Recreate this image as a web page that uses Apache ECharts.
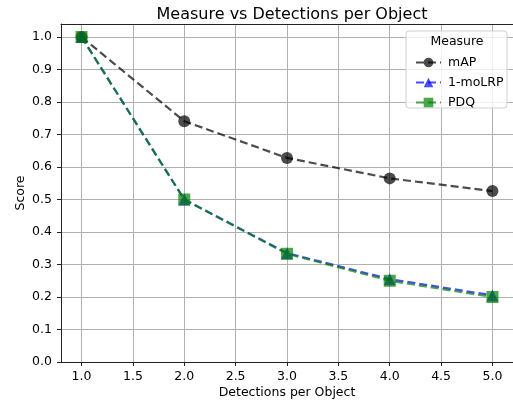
<!DOCTYPE html>
<html>
<head>
<meta charset="utf-8">
<script src="https://cdn.jsdelivr.net/npm/echarts@6/dist/echarts.min.js"></script>
<style>
  html, body { margin: 0; padding: 0; background: #fff; overflow: hidden; }
  #main { width: 513px; height: 402px; }
</style>
</head>
<body>
<div id="main"></div>
<script>
const detections = [1, 2, 3, 4, 5];
const mapScores = [1.0, 0.741, 0.628, 0.565, 0.526];
const molrpScores = [1.0, 0.5, 0.335, 0.255, 0.205];
const pdqScores = [1.0, 0.5, 0.333, 0.25, 0.2];
const xTicks = [1.0, 1.5, 2.0, 2.5, 3.0, 3.5, 4.0, 4.5, 5.0];
const yTicks = [0.0, 0.1, 0.2, 0.3, 0.4, 0.5, 0.6, 0.7, 0.8, 0.9, 1.0];

const font = 'DejaVu Sans';
const pairs = (ys) => detections.map((x, i) => [x, ys[i]]);

const myChart = echarts.init(document.getElementById('main'));

const lineSeries = (name, ys, color, symbol, size, z) => ({
  name: name,
  type: 'line',
  data: pairs(ys),
  symbol: symbol,
  symbolSize: size,
  z: z,
  lineStyle: { color: color, width: 2.2, type: [8, 4], opacity: 0.7 },
  itemStyle: { color: color, opacity: 0.7 },
  emphasis: { disabled: true },
});

const option = {
  animation: false,
  backgroundColor: '#fff',
  title: {
    text: 'Measure vs Detections per Object',
    left: 287,
    top: 2,
    textAlign: 'center',
    textStyle: { fontFamily: font, fontSize: 16, fontWeight: 'normal', color: '#000' },
  },
  grid: {
    left: 61, top: 24, right: 0, bottom: 40,
    outerBoundsMode: 'none',
    containLabel: false,
    show: false,
  },
  legend: {
    orient: 'vertical',
    left: 410,
    top: 51,
    z: 60,
    itemWidth: 25,
    itemHeight: 12,
    itemGap: 7,
    textStyle: { fontFamily: font, fontSize: 12.5, color: '#000', padding: [0, 0, 0, 2] },
    data: ['mAP', '1-moLRP', 'PDQ'],
  },
  graphic: [
    {
      type: 'rect',
      shape: { x: 406, y: 31, width: 101, height: 77, r: 3 },
      style: { fill: 'rgba(255,255,255,0.8)', stroke: '#d0d0d0', lineWidth: 1 },
      z: 50,
    },
    {
      type: 'text',
      x: 457, y: 42,
      style: { text: 'Measure', font: '12.5px "DejaVu Sans"', fill: '#000', align: 'center', verticalAlign: 'middle' },
      z: 51,
    },
  ],
  xAxis: [
    {
      type: 'value',
      min: 0.8,
      max: 5.2,
      name: 'Detections per Object',
      nameLocation: 'middle',
      nameGap: 24,
      nameMoveOverlap: false,
      nameTextStyle: { fontFamily: font, fontSize: 12.5, color: '#000' },
      axisLine: { show: true, lineStyle: { color: '#222', width: 1 } },
      axisTick: { show: true, inside: false, length: 4, customValues: xTicks, lineStyle: { color: '#222' } },
      axisLabel: {
        customValues: xTicks, margin: 8,
        fontFamily: font, fontSize: 12.5, color: '#000',
        formatter: (v) => v.toFixed(1),
      },
      splitLine: { show: true, lineStyle: { color: '#b0b0b0', width: 1 } },
    },
    {
      type: 'value',
      position: 'top',
      min: 0.8,
      max: 5.2,
      axisLine: { show: true, onZero: false, lineStyle: { color: '#222', width: 1 } },
      axisTick: { show: false },
      axisLabel: { show: false },
      splitLine: { show: false },
    },
  ],
  yAxis: {
    type: 'value',
    min: 0,
    max: 1.04,
    name: 'Score',
    nameLocation: 'middle',
    nameGap: 34,
    nameMoveOverlap: false,
    nameTextStyle: { fontFamily: font, fontSize: 12.5, color: '#000' },
    axisLine: { show: true, lineStyle: { color: '#222', width: 1 } },
    axisTick: { show: true, inside: false, length: 4, customValues: yTicks, lineStyle: { color: '#222' } },
    axisLabel: {
      customValues: yTicks, margin: 9,
      fontFamily: font, fontSize: 12.5, color: '#000',
      formatter: (v) => v.toFixed(1),
    },
    splitLine: { show: true, lineStyle: { color: '#b0b0b0', width: 1 } },
  },
  series: [
    lineSeries('mAP', mapScores, '#000000', 'circle', 12, 2),
    lineSeries('1-moLRP', molrpScores, '#0000ff', 'triangle', 12, 3),
    lineSeries('PDQ', pdqScores, '#008000', 'rect', 12, 4),
  ],
};

myChart.setOption(option);
</script>
</body>
</html>
